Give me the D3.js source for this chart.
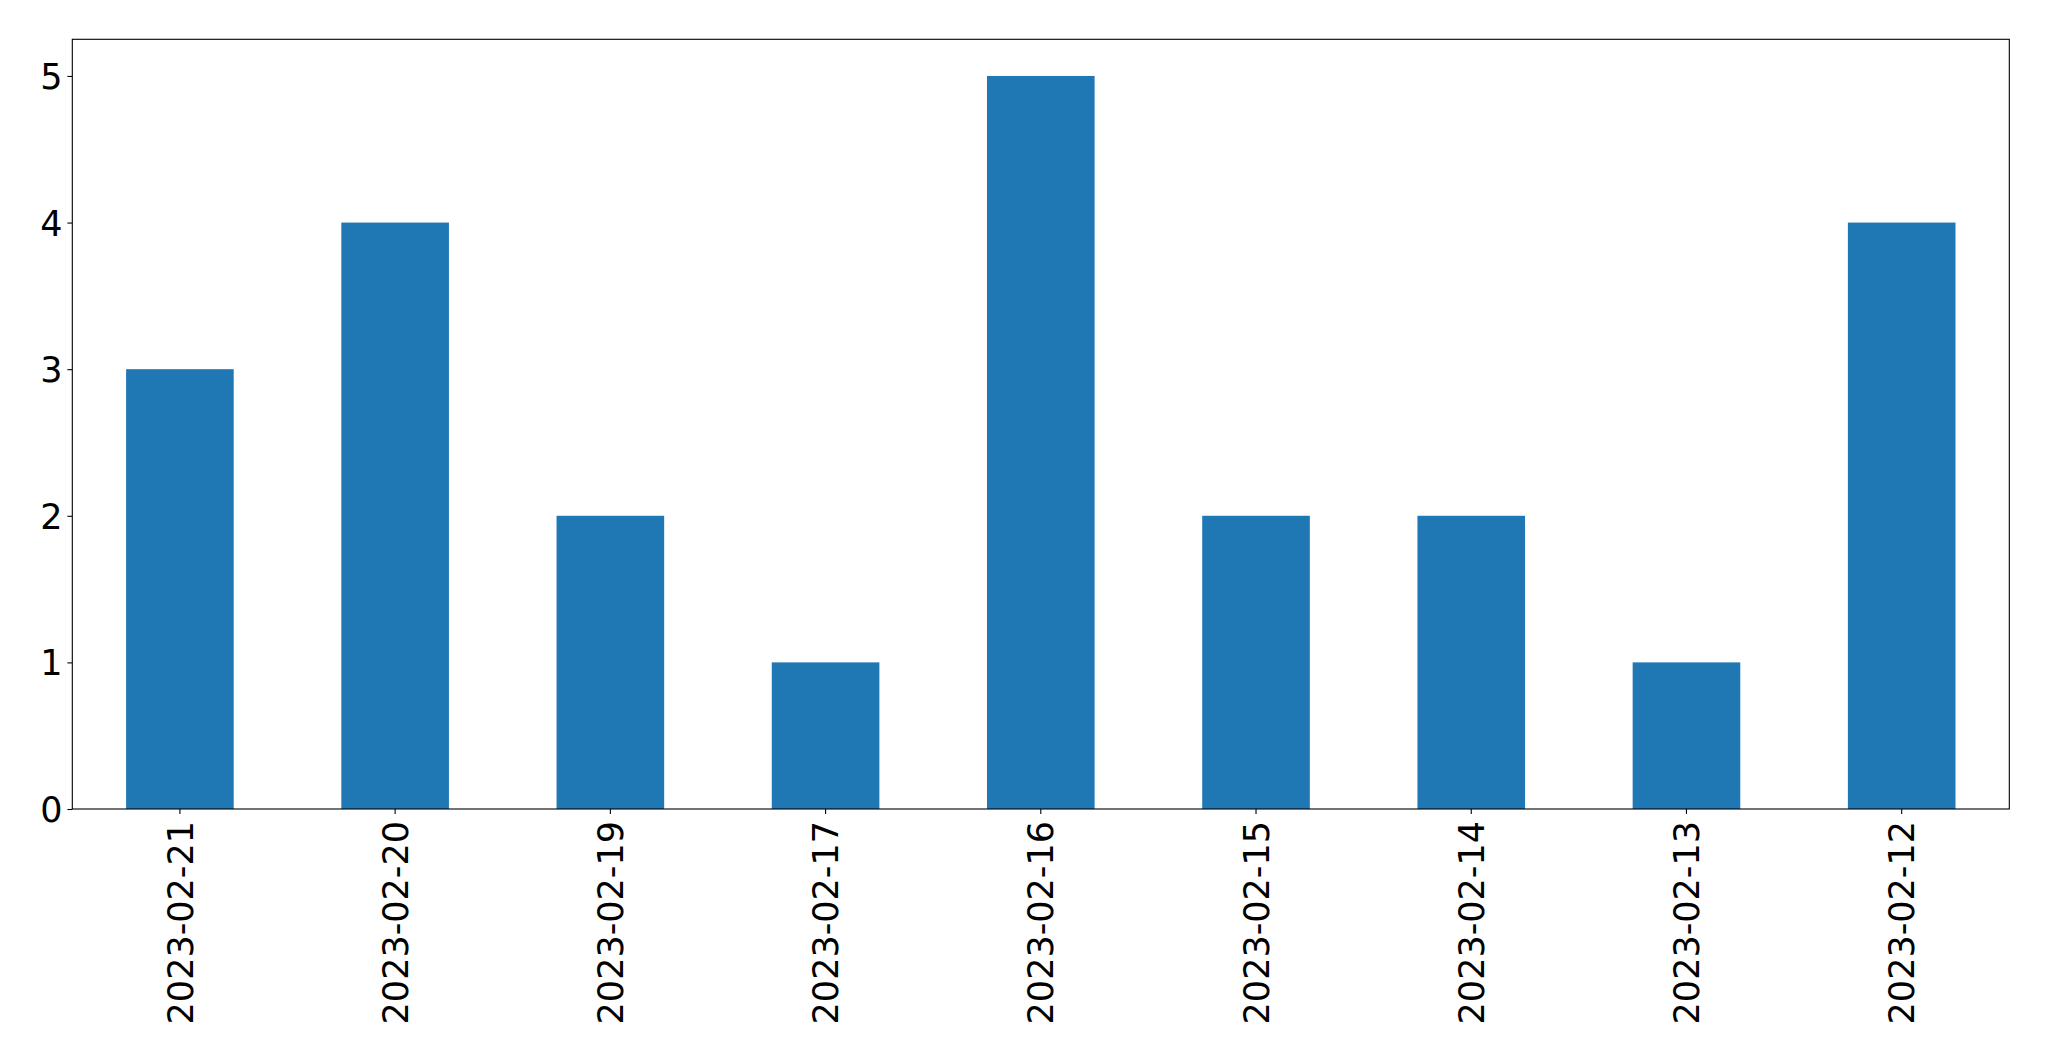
<!DOCTYPE html>
<html>
<head>
<meta charset="utf-8">
<script src="https://cdn.jsdelivr.net/npm/d3@7"></script>
<style>
  html, body { margin: 0; padding: 0; background: #fff; }
  svg { display: block; }
  text { font-family: "DejaVu Sans", sans-serif; fill: #000; }
</style>
</head>
<body>
<svg id="chart" width="2049" height="1061"></svg>
<script>
const categories = ["2023-02-21","2023-02-20","2023-02-19","2023-02-17","2023-02-16","2023-02-15","2023-02-14","2023-02-13","2023-02-12"];
const values = [3, 4, 2, 1, 5, 2, 2, 1, 4];
const yTicks = [0, 1, 2, 3, 4, 5];

(function () {
const svg = d3.select("#chart");
const mLeft = 72.3, mRight = 2009.3, mTop = 39.3, mBottom = 809;
const fontSize = 35;

const x = d3.scaleBand().domain(categories).range([mLeft, mRight]).paddingInner(0.5).paddingOuter(0.25);
const y = d3.scaleLinear().domain([0, 5.25]).range([mBottom, mTop]);

// bars
svg.append("g").selectAll("rect").data(values).join("rect")
  .attr("x", (d, i) => x(categories[i]))
  .attr("width", x.bandwidth())
  .attr("y", d => y(d))
  .attr("height", d => y(0) - y(d))
  .attr("fill", "#1f77b4");

// frame
svg.append("rect")
  .attr("x", mLeft).attr("y", mTop)
  .attr("width", mRight - mLeft).attr("height", mBottom - mTop)
  .attr("fill", "none").attr("stroke", "#000").attr("stroke-width", 1.1);

// y axis
const yAxis = svg.append("g").attr("transform", `translate(${mLeft},0)`)
  .call(d3.axisLeft(y).tickValues(yTicks).tickFormat(d3.format("d")).tickSize(4.9).tickPadding(4.8));
yAxis.select(".domain").remove();
yAxis.selectAll(".tick line").attr("stroke", "#000").attr("stroke-width", 1.1);
yAxis.selectAll(".tick text").attr("font-size", fontSize).attr("font-family", "DejaVu Sans").attr("dy", "0.36em");

// x axis
const xAxis = svg.append("g").attr("transform", `translate(0,${mBottom})`)
  .call(d3.axisBottom(x).tickSize(4.9).tickPadding(0));
xAxis.select(".domain").remove();
xAxis.selectAll(".tick line").attr("stroke", "#000").attr("stroke-width", 1.1);
xAxis.selectAll(".tick text")
  .attr("font-size", fontSize)
  .attr("font-family", "DejaVu Sans")
  .attr("text-anchor", "end")
  .attr("transform", "translate(0,12) rotate(-90)")
  .attr("x", 0).attr("y", 0)
  .attr("dy", "0.36em");
})();
</script>
</body>
</html>
